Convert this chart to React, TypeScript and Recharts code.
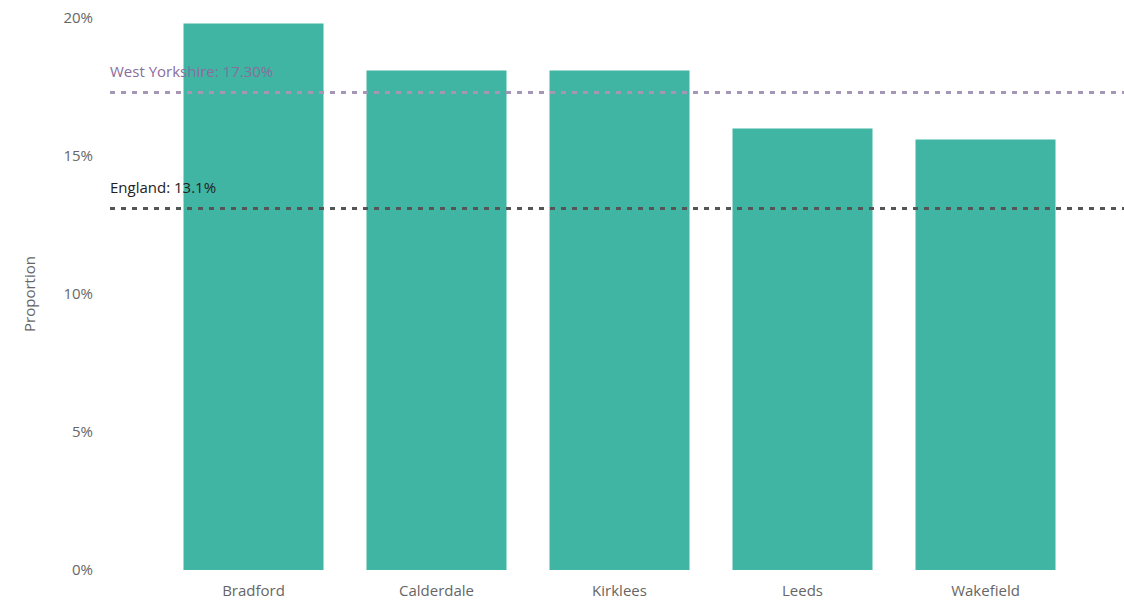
import React from 'react';
import { BarChart, Bar, XAxis, YAxis, ReferenceLine, Label } from 'recharts';

const categories = ['Bradford', 'Calderdale', 'Kirklees', 'Leeds', 'Wakefield'];
const proportions = [0.198, 0.181, 0.181, 0.16, 0.156];
const yTicks = [0, 0.05, 0.1, 0.15, 0.2];
const westYorkshire = 0.173;
const england = 0.131;

const data = categories.map((name, i) => ({ name, value: proportions[i] }));

const FONT = "'Segoe UI', 'Open Sans', 'DejaVu Sans', sans-serif";

export default function App() {
  return (
    <div style={{ position: 'absolute', left: 0, top: 0, background: '#fff' }}>
      <BarChart
        width={1124}
        height={600}
        data={data}
        margin={{ top: 18, right: 0, bottom: 0, left: 0 }}
        barCategoryGap={21.5}
      >
        <XAxis
          dataKey="name"
          axisLine={false}
          tickLine={false}
          height={30}
          padding={{ left: 52, right: 47 }}
          tick={{ fill: '#666', fontSize: 15, fontFamily: FONT }}
          tickMargin={9}
        />
        <YAxis
          width={110}
          domain={[0, 0.2]}
          ticks={yTicks}
          axisLine={false}
          tickLine={false}
          tickSize={0}
          tickMargin={17}
          tickFormatter={(v: number) => `${Math.round(v * 100)}%`}
          tick={{ fill: '#666', fontSize: 15, fontFamily: FONT }}
        >
          <Label
            value="Proportion"
            angle={-90}
            position="insideLeft"
            offset={30}
            style={{ fill: '#666', fontSize: 15, fontFamily: FONT, textAnchor: 'middle' }}
          />
        </YAxis>
        <ReferenceLine
          y={westYorkshire}
          stroke="#a397b5"
          strokeWidth={3}
          strokeDasharray="5 6"
          ifOverflow="extendDomain"
        >
          <Label
            value="West Yorkshire: 17.30%"
            position="insideTopLeft"
            offset={0}
            dy={-26}
            style={{ fill: '#8a6d9c', fontSize: 15, fontFamily: FONT }}
          />
        </ReferenceLine>
        <ReferenceLine
          y={england}
          stroke="#555"
          strokeWidth={3}
          strokeDasharray="5 6"
        >
          <Label
            value="England: 13.1%"
            position="insideTopLeft"
            offset={0}
            dy={-26}
            style={{ fill: '#222', fontSize: 15, fontFamily: FONT }}
          />
        </ReferenceLine>
        <Bar dataKey="value" fill="#40b5a3" isAnimationActive={false} />
      </BarChart>
    </div>
  );
}
